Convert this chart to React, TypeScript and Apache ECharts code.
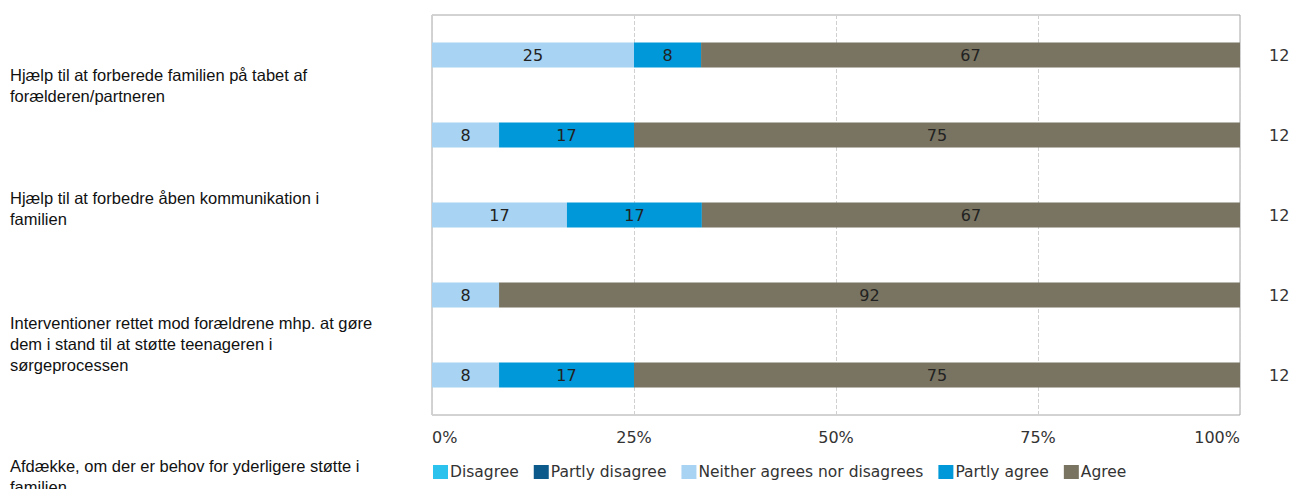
import React, { useEffect, useRef } from "react";
import * as echarts from "echarts";

const categories = [
  "Hjælp til at forberede familien på tabet af\nforælderen/partneren",
  "Hjælp til at forbedre åben kommunikation i\nfamilien",
  "Interventioner rettet mod forældrene mhp. at gøre\ndem i stand til at støtte teenageren i\nsørgeprocessen",
  "Afdække, om der er behov for yderligere støtte i\nfamilien",
  "",
];
const counts = ["12", "12", "12", "12", "12"];
const seriesNames = ["Disagree", "Partly disagree", "Neither agrees nor disagrees", "Partly agree", "Agree"];
const disagree = [0, 0, 0, 0, 0];
const partlyDisagree = [0, 0, 0, 0, 0];
const neither = [25, 8.3, 16.7, 8.3, 8.3];
const partlyAgree = [8.3, 16.7, 16.7, 0, 16.7];
const agree = [66.7, 75, 66.6, 91.7, 75];
const xTicks = [0, 25, 50, 75, 100];

const colors = ["#2bc2ee", "#0b5a8b", "#a9d3f2", "#0098d8", "#787461"];
const labelTops = [64, 187, 312, 455, 600];

export default function App() {
  const ref = useRef<HTMLDivElement>(null);
  useEffect(() => {
    if (!ref.current) return;
    const chart = echarts.init(ref.current, undefined, { renderer: "svg" });
    const values = [disagree, partlyDisagree, neither, partlyAgree, agree];
    chart.setOption({
      animation: false,
      color: colors,
      grid: { left: 432, right: 62, top: 15, bottom: 74, show: true, borderColor: "#a6a6a6", borderWidth: 1 },
      xAxis: {
        type: "value",
        min: xTicks[0],
        max: xTicks[xTicks.length - 1],
        interval: 25,
        axisLine: { show: false },
        axisTick: { show: false },
        splitLine: { show: true, lineStyle: { type: "dashed", color: "#d0d0d0" } },
        axisLabel: {
          formatter: "{value}%",
          fontFamily: "DejaVu Sans",
          fontSize: 16,
          color: "#333",
          margin: 14,
          alignMinLabel: "left",
          alignMaxLabel: "right",
        },
      },
      yAxis: [
        {
          type: "category",
          inverse: true,
          data: categories.map((_, i) => "c" + i),
          axisLine: { show: false },
          axisTick: { show: false },
          axisLabel: { show: false },
        },
        {
          type: "category",
          inverse: true,
          position: "right",
          data: counts,
          axisLine: { show: false },
          axisTick: { show: false },
          axisLabel: { fontFamily: "DejaVu Sans", fontSize: 16, color: "#333", margin: 29 },
        },
      ],
      legend: {
        left: 428,
        top: 459,
        icon: "rect",
        itemWidth: 15,
        itemHeight: 14,
        itemGap: 15,
        data: seriesNames,
        textStyle: { fontFamily: "DejaVu Sans", fontSize: 15.5, color: "#333", padding: [0, 0, 0, -3] },
      },
      series: seriesNames.map((name, i) => ({
        name,
        type: "bar",
        stack: "total",
        barWidth: 25,
        yAxisIndex: 0,
        data: values[i],
        label: {
          show: true,
          position: "inside",
          fontFamily: "DejaVu Sans",
          fontSize: 16,
          color: "#222",
          formatter: (p: any) => (p.value > 0 ? String(Math.round(p.value)) : ""),
        },
      })),
      graphic: categories
        .map((t, i) => ({
          type: "text",
          left: 10,
          top: labelTops[i],
          style: {
            text: t,
            font: "16.5px 'Liberation Sans', Arial, sans-serif",
            fill: "#111",
            lineHeight: 21,
          },
        }))
        .filter((g) => g.style.text !== ""),
    });
    return () => chart.dispose();
  }, []);
  return (
    <div
      ref={ref}
      style={{ position: "absolute", left: 0, top: 0, width: 1302, height: 489, background: "#fff" }}
    />
  );
}
